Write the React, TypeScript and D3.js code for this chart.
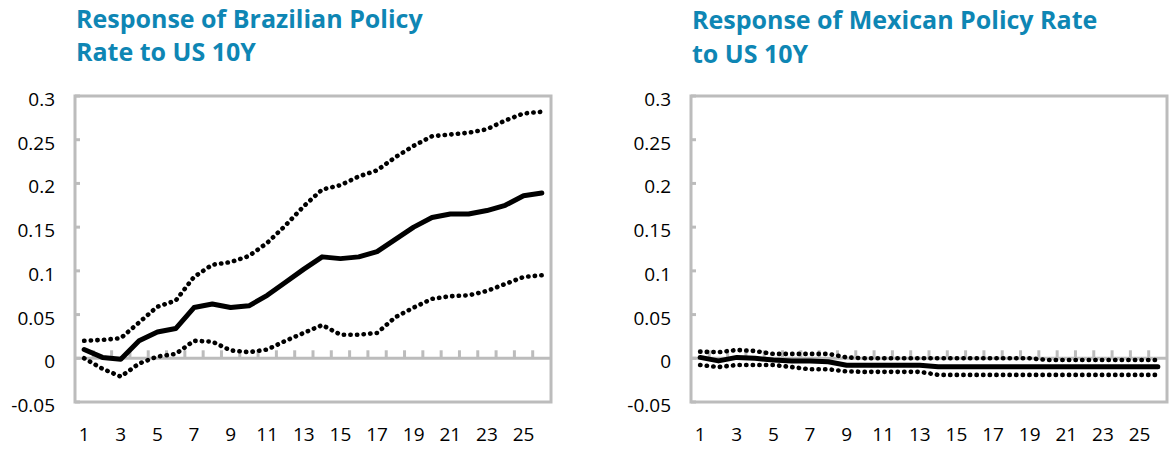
import * as d3 from 'd3'

// horizons 1..26
const periods = d3.range(1, 27)
const xLabels = periods.filter((p) => p % 2 === 1)
const yTicks = [-0.05, 0, 0.05, 0.1, 0.15, 0.2, 0.25, 0.3]

// Brazil response + bands
const brMid = [0.01, 0.001, -0.001, 0.02, 0.03, 0.034, 0.058, 0.062, 0.058, 0.06, 0.072, 0.087, 0.102, 0.116, 0.114, 0.116, 0.122, 0.136, 0.15, 0.161, 0.165, 0.165, 0.169, 0.175, 0.186, 0.189]
const brUpper = [0.02, 0.021, 0.023, 0.041, 0.059, 0.066, 0.093, 0.107, 0.11, 0.117, 0.132, 0.152, 0.174, 0.193, 0.198, 0.208, 0.215, 0.23, 0.243, 0.254, 0.256, 0.258, 0.262, 0.272, 0.28, 0.282]
const brLower = [0.0, -0.012, -0.021, -0.006, 0.002, 0.005, 0.02, 0.019, 0.009, 0.007, 0.01, 0.02, 0.029, 0.038, 0.027, 0.027, 0.029, 0.047, 0.058, 0.068, 0.071, 0.072, 0.077, 0.085, 0.093, 0.095]

// Mexico response + bands
const mxMid = [0.001, -0.003, 0.001, 0.0, -0.002, -0.003, -0.003, -0.004, -0.008, -0.008, -0.008, -0.008, -0.008, -0.0096, -0.0096, -0.0096, -0.0096, -0.0096, -0.0096, -0.0096, -0.0096, -0.0096, -0.0096, -0.0096, -0.0096, -0.0096]
const mxUpper = [0.0076, 0.007, 0.0095, 0.0083, 0.005, 0.005, 0.005, 0.005, 0.001, 0.0, 0.0, 0.0, 0.0, 0.0, 0.0, 0.0, 0.0, 0.0, 0.0, -0.002, -0.002, -0.002, -0.002, -0.002, -0.002, -0.002]
const mxLower = [-0.0077, -0.01, -0.0077, -0.0077, -0.0077, -0.01, -0.0126, -0.0126, -0.015, -0.0155, -0.0155, -0.0155, -0.0155, -0.019, -0.019, -0.019, -0.019, -0.019, -0.019, -0.019, -0.019, -0.019, -0.019, -0.019, -0.019, -0.019]

const W = 1169
const H = 451
const PT = 96
const PB = 402
const PW = 476
const AXIS = '#bcbcbc'
const TITLE = '#0e86b4'
const FONT = '"Open Sans", "Noto Sans", sans-serif'

interface PanelProps {
  left: number
  title: [string, string]
  titleX: number
  titleY: [number, number]
  mid: number[]
  upper: number[]
  lower: number[]
}

function Panel({ left, title, titleX, titleY, mid, upper, lower }: PanelProps) {
  const right = left + PW
  const x = d3.scaleBand<number>().domain(periods).range([left, right]).padding(0)
  const bw = x.bandwidth()
  const cx = (p: number) => (x(p) ?? 0) + bw / 2
  const y = d3.scaleLinear().domain([-0.05, 0.3]).range([PB, PT])

  const line = d3
    .line<number>()
    .x((_, i) => cx(periods[i]))
    .y((v) => y(v))

  const dotted = {
    fill: 'none',
    stroke: '#000',
    strokeWidth: 4.6,
    strokeDasharray: '0.3 6.3',
    strokeLinecap: 'round' as const,
  }

  return (
    <g>
      <text x={titleX} y={titleY[0]} fill={TITLE} fontSize={25} fontWeight={700} fontFamily={FONT}>
        {title[0]}
      </text>
      <text x={titleX} y={titleY[1]} fill={TITLE} fontSize={25} fontWeight={700} fontFamily={FONT}>
        {title[1]}
      </text>

      {/* y labels + inner ticks */}
      {yTicks.map((t) => (
        <g key={t}>
          <line x1={left} x2={left + 5} y1={y(t)} y2={y(t)} stroke={AXIS} strokeWidth={3} />
          <text
            x={left - 20}
            y={y(t) + 10}
            textAnchor="end"
            fontSize={19}
            fontFamily={FONT}
            fill="#000"
          >
            {String(t)}
          </text>
        </g>
      ))}

      {/* plot border */}
      <rect x={left} y={PT} width={PW} height={PB - PT} fill="none" stroke={AXIS} strokeWidth={3} />

      {/* zero axis with category ticks */}
      <line x1={left} x2={right} y1={y(0)} y2={y(0)} stroke={AXIS} strokeWidth={3} />
      {periods.slice(1).map((p) => (
        <line
          key={p}
          x1={x(p)}
          x2={x(p)}
          y1={y(0)}
          y2={y(0) - 8}
          stroke={AXIS}
          strokeWidth={3}
        />
      ))}

      {xLabels.map((p) => (
        <text key={p} x={cx(p)} y={441} textAnchor="middle" fontSize={19} fontFamily={FONT} fill="#000">
          {p}
        </text>
      ))}

      <path d={line(upper) ?? ''} {...dotted} />
      <path d={line(lower) ?? ''} {...dotted} />
      <path d={line(mid) ?? ''} fill="none" stroke="#000" strokeWidth={5} strokeLinejoin="round" strokeLinecap="round" />
    </g>
  )
}

export default function App() {
  return (
    <svg
      width={W}
      height={H}
      style={{ position: 'absolute', left: 0, top: 0, background: '#fff' }}
    >
      <rect width={W} height={H} fill="#fff" />
      <Panel
        left={75}
        title={['Response of Brazilian Policy', 'Rate to US 10Y']}
        titleX={76}
        titleY={[27.5, 61]}
        mid={brMid}
        upper={brUpper}
        lower={brLower}
      />
      <Panel
        left={691}
        title={['Response of Mexican Policy Rate', 'to US 10Y']}
        titleX={692}
        titleY={[28.5, 63]}
        mid={mxMid}
        upper={mxUpper}
        lower={mxLower}
      />
    </svg>
  )
}
